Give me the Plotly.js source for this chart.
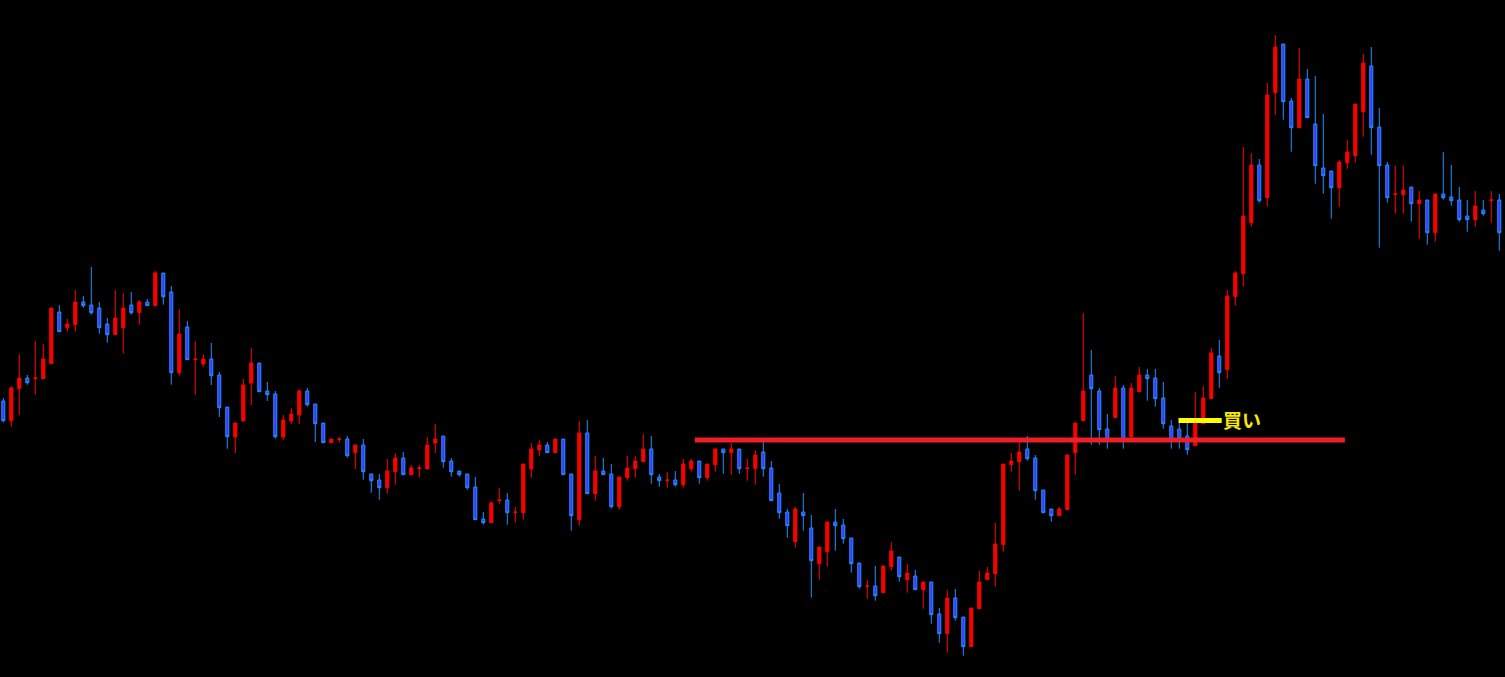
<!DOCTYPE html>
<html>
<head>
<meta charset="utf-8">
<script src="https://cdn.plot.ly/plotly-3.0.1.min.js"></script>
<style>
html,body{margin:0;padding:0;background:#000;}
#chart{width:1505px;height:677px;}
</style>
</head>
<body>
<div id="chart"></div>
<script>
// OHLC values (arbitrary price units)
const openPrices = [
599,579.3,611.3,622,621.5,621.3,636.3,688,672.3,675.3,698,695,692,676,665.3,672.3,695,687.3,698,694.3,
727,708,627.3,673,640.5,636,641,625,593,563,579,617,637,609,606,563,579,585,609,596,
577,557.3,560.7,561,547.3,555,526,520,512.3,528.3,542,525.3,531.5,531,557,564,539,529,526,513,
481,477.3,499.5,500,487.5,487.3,531,550,555,547.3,561,526,480.3,567,506.3,529,526,493.3,522.3,531.3,
538.3,551,523,519.5,520,515.3,531.3,539,522.3,535.3,551,547.3,551,531.5,531.3,548,532,507,488,458.3,
488,472,436.3,448.3,478,475,462,437,413.7,414,407.3,433.3,443,420.3,424,410.3,418,386,366.3,402,
383,353.3,391.3,420.3,426.3,455.3,535.3,538.3,551,542,510,491,484.3,490.3,547.3,579.3,625,609,571,582.3,
612,563.3,608.3,625,622,602,574,571,564,554.3,576.3,601.3,644,630.3,703.3,726.3,777.3,835,802.3,907.3,
956,899,872.3,921,876,832,829,812.3,837.3,844.3,888.3,934,873,835,805.5,805.3,813,796.3,800,767.3,
806,803,800,784,780.3,790,799.5,800
];
const highPrices = [
602,614,646,625,659,656,692,695,681,710,704,733,698,682,710,707,708,700,701,729,
727,714,691,679,659,646,657,628,593,577,621,652,637,618,609,585,592,611,612,596,
577,561,563.3,564,555,561,526,526,541,547,548,535,535,563,576,564,542,529,526,523,
488,499,512,507,493,536,557,560,558,561,561,526,579,580,544,542,536,523,544,544,
566,564,526,528,529,541,541,539,536,551,551,557,551,541,550,559,539,516,491,493,
507,485,453,478,491,481,462,437,420,434,434,458,443,436,430,418,418,392,410,411,
383,392,429,433,477,536,547,558,564,545,510,491,493,545,577,687,650,612,586,624,
615,617,633,631,631,618,580,577,577,608,614,652,660,710,729,853,847,841,917,965,
956,902,952,931,924,886,829,840,860,896,946,953,892,838,834.3,834.3,813,809,800,806,
848,835,813,800,809,800,809,806
];
const lowPrices = [
577.3,573.3,585.3,615.3,605.3,621.3,636.3,668.3,668.3,668.3,692.3,685.3,666.3,657.3,665.3,646.3,685.3,675.3,694.3,694.3,
695.3,615.3,624.3,640.3,605,633,615,583,551.3,547,579,595,608.3,599,561.3,560,576,576,593.3,558,
557.3,557.3,557.3,542.3,531,520.3,507.3,500.3,506.3,515.3,525.3,525.3,522.3,531,547,532.3,523.3,523.3,510.3,480.3,
475.3,477.3,496.3,475.3,477.3,480.3,522.3,544,547.3,547.3,525.3,469.3,474.3,506.3,499.3,525.3,491.3,490.3,519.3,522.3,
538.3,516.3,513.3,512.3,513.3,512.3,528.3,516.3,519.3,528.3,526.3,525.3,526.3,519.3,515.3,523.3,499.3,481.3,462.3,452.3,
469.3,402.3,420.3,433.3,449.3,456.3,427.3,411.3,401.3,399.3,407.3,429.3,418.3,407.3,410.3,391.3,376.3,357.3,347.3,379.3,
344.3,353.3,391.3,420.3,413.3,448.3,528.3,509.3,539.3,500.3,487.3,478.3,484.3,490.3,525.3,579.3,555.3,555.3,551.3,582.3,
551.3,561.3,608.3,599.3,593.3,571.3,551.3,551.3,545.3,554.3,576.3,601.3,612.3,621.3,694.3,713.3,773.3,797.3,793.3,885.3,
880.3,848.3,872.3,882.3,816.3,806.3,781.3,793.3,831.3,837.3,863.3,845.3,752.3,797.3,786.3,786.3,778.3,761.3,755.3,758.3,
800.3,794.3,778.3,768.3,773.3,784.3,777.3,749.3
];
const closePrices = [
579.3,612,622,617.3,622,641,692,668.3,676,698,694.3,687.3,672.3,665.3,682,692,687.3,698,694.3,727,
703.3,627.3,666,640.3,641,641,624.3,592.3,563.3,577,615,637,608.3,605.3,563.3,580,586,609,595.3,576.3,
557.3,561,561,544.3,555,528.3,519.3,512.3,529,542,525.3,532,532,555,561,538.3,528.3,525.3,512.3,480.3,
477.3,497,500,487.3,488,536,551,555,547.3,561,525.3,484.3,567,506.3,529,525.3,493.3,523,532,539,
551,525.3,519.3,520,515.3,536,539,522.3,536,551,547.3,551,531.3,532,545,531.3,499.3,487.3,474.3,491,
484.3,439.3,453,478,474.3,461.3,436.3,413.3,414,404.3,434,449,423.3,427,410.3,418,385.3,366.3,402,382.3,
353.3,392,418,427,456,536,539,548,541.3,509.3,487.3,484.3,491,545,577,609,611.3,570.3,560,612,
560,612,625,621.3,601.3,576.3,560,561,550.3,577,602,647,627.3,704,727,784,835,799.3,905,953,
898.3,872.3,921,882.3,834.3,824.3,812.3,838,848,896,937,872.3,834.3,802.3,806,810,796.3,800,767.3,806,
802.3,799.3,780.3,780.3,794,786.3,800,767.3
];

// Drawn levels and markers (price units)
const resistanceLevel = 560;
const resistanceFrom = 86.45, resistanceTo = 167.7;
const buyLevel = 579.5;
const buyFrom = 146.9, buyTo = 152.3;
const buyLabel = '買い';

const xIdx = openPrices.map((_, i) => i);

const trace = {
  type: 'candlestick',
  x: xIdx,
  open: openPrices,
  high: highPrices,
  low: lowPrices,
  close: closePrices,
  whiskerwidth: 0,
  increasing: {line: {color: '#ff0000', width: 1}, fillcolor: '#ff0000'},
  decreasing: {line: {color: '#1e90ff', width: 1}, fillcolor: '#3c3cff'},
  hoverinfo: 'none',
  showlegend: false
};

const layout = {
  width: 1505,
  height: 677,
  margin: {l: 0, r: 0, t: 0, b: 0, pad: 0},
  paper_bgcolor: '#000000',
  plot_bgcolor: '#000000',
  boxgap: 0.45,
  showlegend: false,
  xaxis: {
    range: [-0.4125, 187.7125],
    visible: false,
    showgrid: false,
    zeroline: false,
    rangeslider: {visible: false},
    fixedrange: true
  },
  yaxis: {
    range: [323, 1000],
    visible: false,
    showgrid: false,
    zeroline: false,
    fixedrange: true
  },
  shapes: [
    {type: 'line', xref: 'x', yref: 'y', x0: resistanceFrom, x1: resistanceTo,
     y0: resistanceLevel, y1: resistanceLevel, line: {color: '#f01e28', width: 5}, layer: 'above'},
    {type: 'line', xref: 'x', yref: 'y', x0: buyFrom, x1: buyTo,
     y0: buyLevel, y1: buyLevel, line: {color: '#ffff00', width: 5}, layer: 'above'}
  ],
  annotations: [
    {xref: 'x', yref: 'y', x: buyTo - 0.15, y: buyLevel + 1.5, text: '<b>' + buyLabel + '</b>',
     showarrow: false, xanchor: 'left', yanchor: 'middle',
     font: {family: 'Noto Sans CJK JP', size: 19, color: '#f8e800'}}
  ]
};

Plotly.newPlot('chart', [trace], layout, {staticPlot: true, displayModeBar: false});
</script>
</body>
</html>
